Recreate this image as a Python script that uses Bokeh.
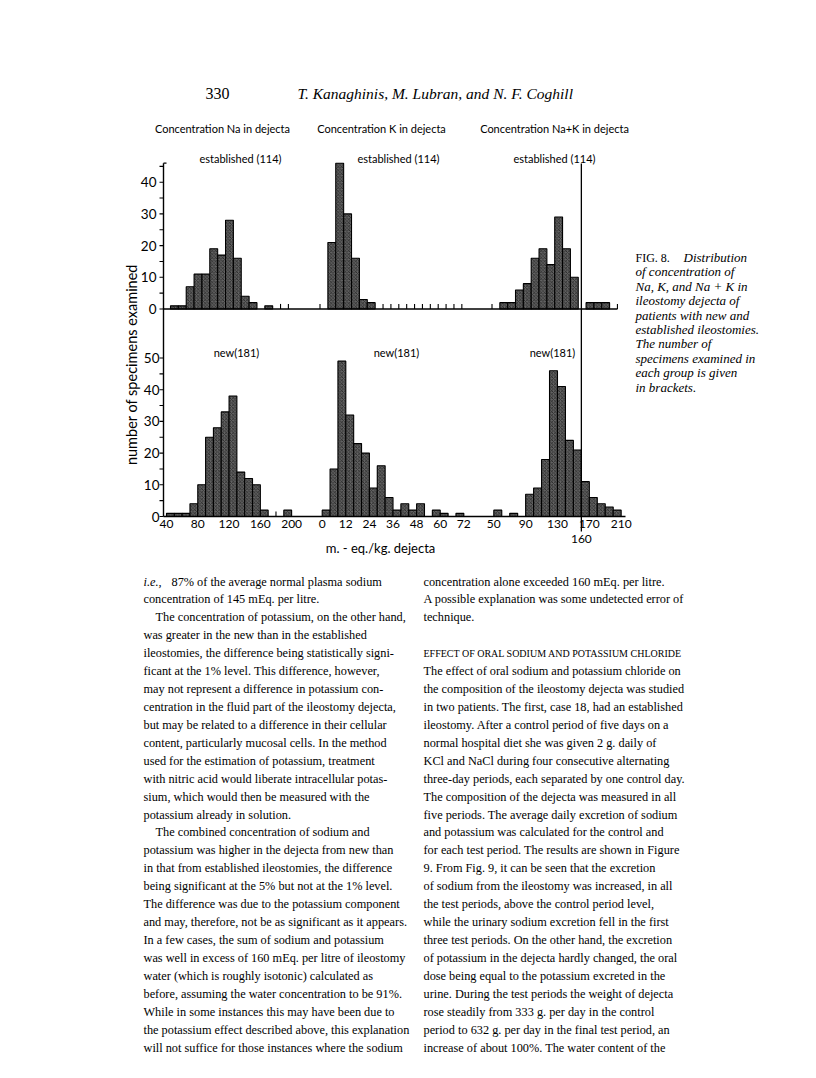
import math
from bokeh.plotting import figure
from bokeh.models import Range1d
from bokeh.core.properties import value
from bokeh.embed import file_html
from bokeh.resources import INLINE

# ---------------- data ----------------
na_bin, k_bin, nak_bin = 10, 4, 10

# established ileostomies (114)
na_est_start = 50
na_est_counts = [1, 1, 7, 11, 11, 19, 17, 28, 16, 4, 2, 0, 1]
na_est_empty = [190, 200]
k_est_start = 4
k_est_counts = [21, 46, 30, 16, 3, 2]
k_est_empty = [0, 32, 36, 40, 44, 48, 52, 56, 60, 64, 68, 72]
nak_est_start = 60
nak_est_counts = [2, 2, 6, 8, 16, 19, 14, 29, 19, 10, 0, 2, 2, 2]
nak_est_empty = [50, 210]

# new ileostomies (181)
na_new_start = 40
na_new_counts = [1, 1, 1, 4, 10, 25, 28, 33, 38, 14, 12, 10, 2, 0, 0, 2]
na_new_empty = [180]
k_new_start = 0
k_new_counts = [2, 15, 49, 32, 23, 20, 9, 16, 6, 2, 4, 2, 4, 0, 2, 1, 0, 1]
nak_new_start = 50
nak_new_counts = [2, 0, 1, 0, 7, 9, 18, 46, 41, 24, 21, 11, 6, 4, 3, 2]

na_ticks = [40, 80, 120, 160, 200]
k_ticks = [0, 12, 24, 36, 48, 60, 72]
nak_ticks = [50, 90, 130, 170, 210]
nak_limit = 160
y_est_ticks = [0, 10, 20, 30, 40]
y_new_ticks = [0, 10, 20, 30, 40, 50]

titles = ["Concentration Na in dejecta", "Concentration K in dejecta",
          "Concentration Na+K in dejecta"]
est_label = "established (114)"
new_label = "new(181)"

# ---------------- layout ----------------
W, H = 800, 1062
X0, Y0 = 0, 0
PPU_Y = 3.17
TOP_ZERO, BOT_ZERO = 308.5, 516.0
AXIS_X = 163


def xr(vref, pref, ppu):
    return Range1d(start=vref + (X0 - pref) / ppu, end=vref + (X0 + W - pref) / ppu)


def yr(zero_page):
    return Range1d(start=(zero_page - (Y0 + H)) / PPU_Y, end=(zero_page - Y0) / PPU_Y)


p = figure(width=W, height=H, output_backend="svg", toolbar_location=None,
           x_range=Range1d(X0, X0 + W), y_range=Range1d(Y0 + H, Y0),
           x_axis_location=None, y_axis_location=None, min_border=0)
p.grid.visible = False
p.outline_line_color = None
p.background_fill_color = "white"
p.border_fill_color = "white"

p.extra_x_ranges = {
    "na_top": xr(50, 170, 0.786), "na_bot": xr(40, 166, 0.782),
    "k_top": xr(0, 319.5, 1.97), "k_bot": xr(0, 321.7, 1.967),
    "nak_top": xr(50, 491.5, 0.784), "nak_bot": xr(50, 493.3, 0.796),
}
p.extra_y_ranges = {"top": yr(TOP_ZERO), "bot": yr(BOT_ZERO)}

BAR = dict(fill_color="#626262", line_color="black", line_width=1.1,
           hatch_pattern="x", hatch_color="#1c1c1c", hatch_scale=3.5,
           hatch_weight=0.7)


def bars(start, width, counts, xname, yname):
    left, right, top = [], [], []
    for i, c in enumerate(counts):
        if c > 0:
            left.append(start + i * width)
            right.append(start + (i + 1) * width)
            top.append(c)
    p.quad(left=left, right=right, bottom=[0] * len(left), top=top,
           x_range_name=xname, y_range_name=yname, **BAR)


def empties(vals, xname, yname):
    p.segment(x0=vals, x1=vals, y0=[0] * len(vals), y1=[1.6] * len(vals),
              x_range_name=xname, y_range_name=yname, line_color="black", line_width=1.1)


bars(na_est_start, na_bin, na_est_counts, "na_top", "top")
bars(k_est_start, k_bin, k_est_counts, "k_top", "top")
bars(nak_est_start, nak_bin, nak_est_counts, "nak_top", "top")
bars(na_new_start, na_bin, na_new_counts, "na_bot", "bot")
bars(k_new_start, k_bin, k_new_counts, "k_bot", "bot")
bars(nak_new_start, nak_bin, nak_new_counts, "nak_bot", "bot")
empties(na_est_empty, "na_top", "top")
empties(k_est_empty, "k_top", "top")
empties(nak_est_empty, "nak_top", "top")
empties(na_new_empty, "na_bot", "bot")

# baselines
p.segment(x0=[AXIS_X], x1=[617], y0=[0], y1=[0], y_range_name="top",
          line_color="black", line_width=1.4)
p.segment(x0=[AXIS_X], x1=[625], y0=[0], y1=[0], y_range_name="bot",
          line_color="black", line_width=1.4)
# y axis
p.segment(x0=[AXIS_X], x1=[AXIS_X], y0=[0], y1=[46], y_range_name="top",
          line_color="black", line_width=1.4)
p.segment(x0=[AXIS_X], x1=[AXIS_X + 3], y0=[46], y1=[46], y_range_name="top",
          line_color="black", line_width=1.2)
p.segment(x0=[AXIS_X], x1=[AXIS_X], y0=[0], y1=[65.6], y_range_name="bot",
          line_color="black", line_width=1.4)
t_top = list(range(0, 50, 5))
t_bot = list(range(0, 55, 5))
p.segment(x0=[AXIS_X - 4] * len(t_top), x1=[AXIS_X] * len(t_top), y0=t_top, y1=t_top,
          y_range_name="top", line_color="black", line_width=1.1)
p.segment(x0=[AXIS_X - 4] * len(t_bot), x1=[AXIS_X] * len(t_bot), y0=t_bot, y1=t_bot,
          y_range_name="bot", line_color="black", line_width=1.1)

SANS = value("Lato")
p.text(x=[AXIS_X - 7] * len(y_est_ticks), y=y_est_ticks, text=[str(v) for v in y_est_ticks],
       y_range_name="top", text_font=SANS, text_font_size=value("13.5px"),
       text_align="right", text_baseline="middle", text_color="black")
p.text(x=[AXIS_X - 4] * len(y_new_ticks), y=y_new_ticks, text=[str(v) for v in y_new_ticks],
       y_range_name="bot", text_font=SANS, text_font_size=value("13.5px"),
       text_align="right", text_baseline="middle", text_color="black")

# vertical reference line at 160 (Na + K)
p.segment(x0=[nak_limit], x1=[nak_limit], y0=[163], y1=[531], x_range_name="nak_bot",
          line_color="black", line_width=1.3)

# x tick labels
for ticks, name in ((na_ticks, "na_bot"), (k_ticks, "k_bot"), (nak_ticks, "nak_bot")):
    p.text(x=ticks, y=[523] * len(ticks), text=[str(v) for v in ticks], x_range_name=name,
           text_font=SANS, text_font_size=value("12px"), text_align="center",
           text_baseline="middle", text_color="black")
p.text(x=[nak_limit], y=[538], text=[str(nak_limit)], x_range_name="nak_bot",
       text_font=SANS, text_font_size=value("12px"), text_align="center",
       text_baseline="middle", text_color="black")
p.text(x=[380], y=[547], text=["m. - eq./kg. dejecta"], text_font=SANS,
       text_font_size=value("13px"), text_align="center", text_baseline="middle")

# titles and group labels
p.text(x=[222, 381, 554], y=[128] * 3, text=titles, text_font=SANS,
       text_font_size=value("11px"), text_align="center", text_baseline="middle")
p.text(x=[240, 398, 554], y=[158] * 3, text=[est_label] * 3, text_font=SANS,
       text_font_size=value("11px"), text_align="center", text_baseline="middle")
p.text(x=[236, 396, 552], y=[352] * 3, text=[new_label] * 3, text_font=SANS,
       text_font_size=value("11px"), text_align="center", text_baseline="middle")
p.text(x=[131], y=[364], text=["number of specimens examined"], angle=math.pi / 2,
       text_font=SANS, text_font_size=value("14.5px"), text_align="center",
       text_baseline="middle")

# ---------------- page text ----------------
SERIF = value("Liberation Serif")
p.text(x=[205], y=[93], text=["330"], text_font=SERIF, text_font_size=value("16px"),
       text_baseline="middle")
p.text(x=[297], y=[93], text=["T. Kanaghinis, M. Lubran, and N. F. Coghill"],
       text_font=SERIF, text_font_style="italic", text_font_size=value("15.5px"),
       text_baseline="middle")

caption = ["of concentration of", "Na, K, and Na + K in", "ileostomy dejecta of",
           "patients with new and", "established ileostomies.", "The number of",
           "specimens examined in", "each group is given", "in brackets."]
p.text(x=[635], y=[257], text=["FIG. 8."], text_font=SERIF, text_font_size=value("12px"),
       text_baseline="middle")
p.text(x=[683], y=[257], text=["Distribution"], text_font=SERIF, text_font_style="italic",
       text_font_size=value("13px"), text_baseline="middle")
p.text(x=[635] * len(caption), y=[257 + 14.4 * (i + 1) for i in range(len(caption))],
       text=caption, text_font=SERIF, text_font_style="italic",
       text_font_size=value("13px"), text_baseline="middle")

left_col = [
    " 87% of the average normal plasma sodium",
    "concentration of 145 mEq. per litre.",
    "The concentration of potassium, on the other hand,",
    "was greater in the new than in the established",
    "ileostomies, the difference being statistically signi-",
    "ficant at the 1% level. This difference, however,",
    "may not represent a difference in potassium con-",
    "centration in the fluid part of the ileostomy dejecta,",
    "but may be related to a difference in their cellular",
    "content, particularly mucosal cells. In the method",
    "used for the estimation of potassium, treatment",
    "with nitric acid would liberate intracellular potas-",
    "sium, which would then be measured with the",
    "potassium already in solution.",
    "The combined concentration of sodium and",
    "potassium was higher in the dejecta from new than",
    "in that from established ileostomies, the difference",
    "being significant at the 5% but not at the 1% level.",
    "The difference was due to the potassium component",
    "and may, therefore, not be as significant as it appears.",
    "In a few cases, the sum of sodium and potassium",
    "was well in excess of 160 mEq. per litre of ileostomy",
    "water (which is roughly isotonic) calculated as",
    "before, assuming the water concentration to be 91%.",
    "While in some instances this may have been due to",
    "the potassium effect described above, this explanation",
    "will not suffice for those instances where the sodium",
]
left_indent = {2, 14}
right_col = [
    "concentration alone exceeded 160 mEq. per litre.",
    "A possible explanation was some undetected error of",
    "technique.",
    "",
    "",
    "The effect of oral sodium and potassium chloride on",
    "the composition of the ileostomy dejecta was studied",
    "in two patients. The first, case 18, had an established",
    "ileostomy. After a control period of five days on a",
    "normal hospital diet she was given 2 g. daily of",
    "KCl and NaCl during four consecutive alternating",
    "three-day periods, each separated by one control day.",
    "The composition of the dejecta was measured in all",
    "five periods. The average daily excretion of sodium",
    "and potassium was calculated for the control and",
    "for each test period. The results are shown in Figure",
    "9. From Fig. 9, it can be seen that the excretion",
    "of sodium from the ileostomy was increased, in all",
    "the test periods, above the control period level,",
    "while the urinary sodium excretion fell in the first",
    "three test periods. On the other hand, the excretion",
    "of potassium in the dejecta hardly changed, the oral",
    "dose being equal to the potassium excreted in the",
    "urine. During the test periods the weight of dejecta",
    "rose steadily from 333 g. per day in the control",
    "period to 632 g. per day in the final test period, an",
    "increase of about 100%. The water content of the",
]
LINE0, DY = 581, (1047 - 581) / 26
BODY = value("12.3px")
lx, ly, lt = [], [], []
for i, s in enumerate(left_col):
    if i == 0:
        lx.append(171)
    else:
        lx.append(155 if i in left_indent else 143)
    ly.append(LINE0 + DY * i)
    lt.append(s)
p.text(x=lx, y=ly, text=lt, text_font=SERIF, text_font_size=BODY, text_baseline="middle")
p.text(x=[143], y=[LINE0], text=["i.e.,"], text_font=SERIF, text_font_style="italic",
       text_font_size=BODY, text_baseline="middle")
rx, ry, rt = [], [], []
for i, s in enumerate(right_col):
    if s:
        rx.append(423)
        ry.append(LINE0 + DY * i)
        rt.append(s)
p.text(x=rx, y=ry, text=rt, text_font=SERIF, text_font_size=BODY, text_baseline="middle")
p.text(x=[423], y=[LINE0 + DY * 4], text=["EFFECT OF ORAL SODIUM AND POTASSIUM CHLORIDE"],
       text_font=SERIF, text_font_size=value("10px"), text_baseline="middle")

open("out.html", "w").write(file_html(p, INLINE))
